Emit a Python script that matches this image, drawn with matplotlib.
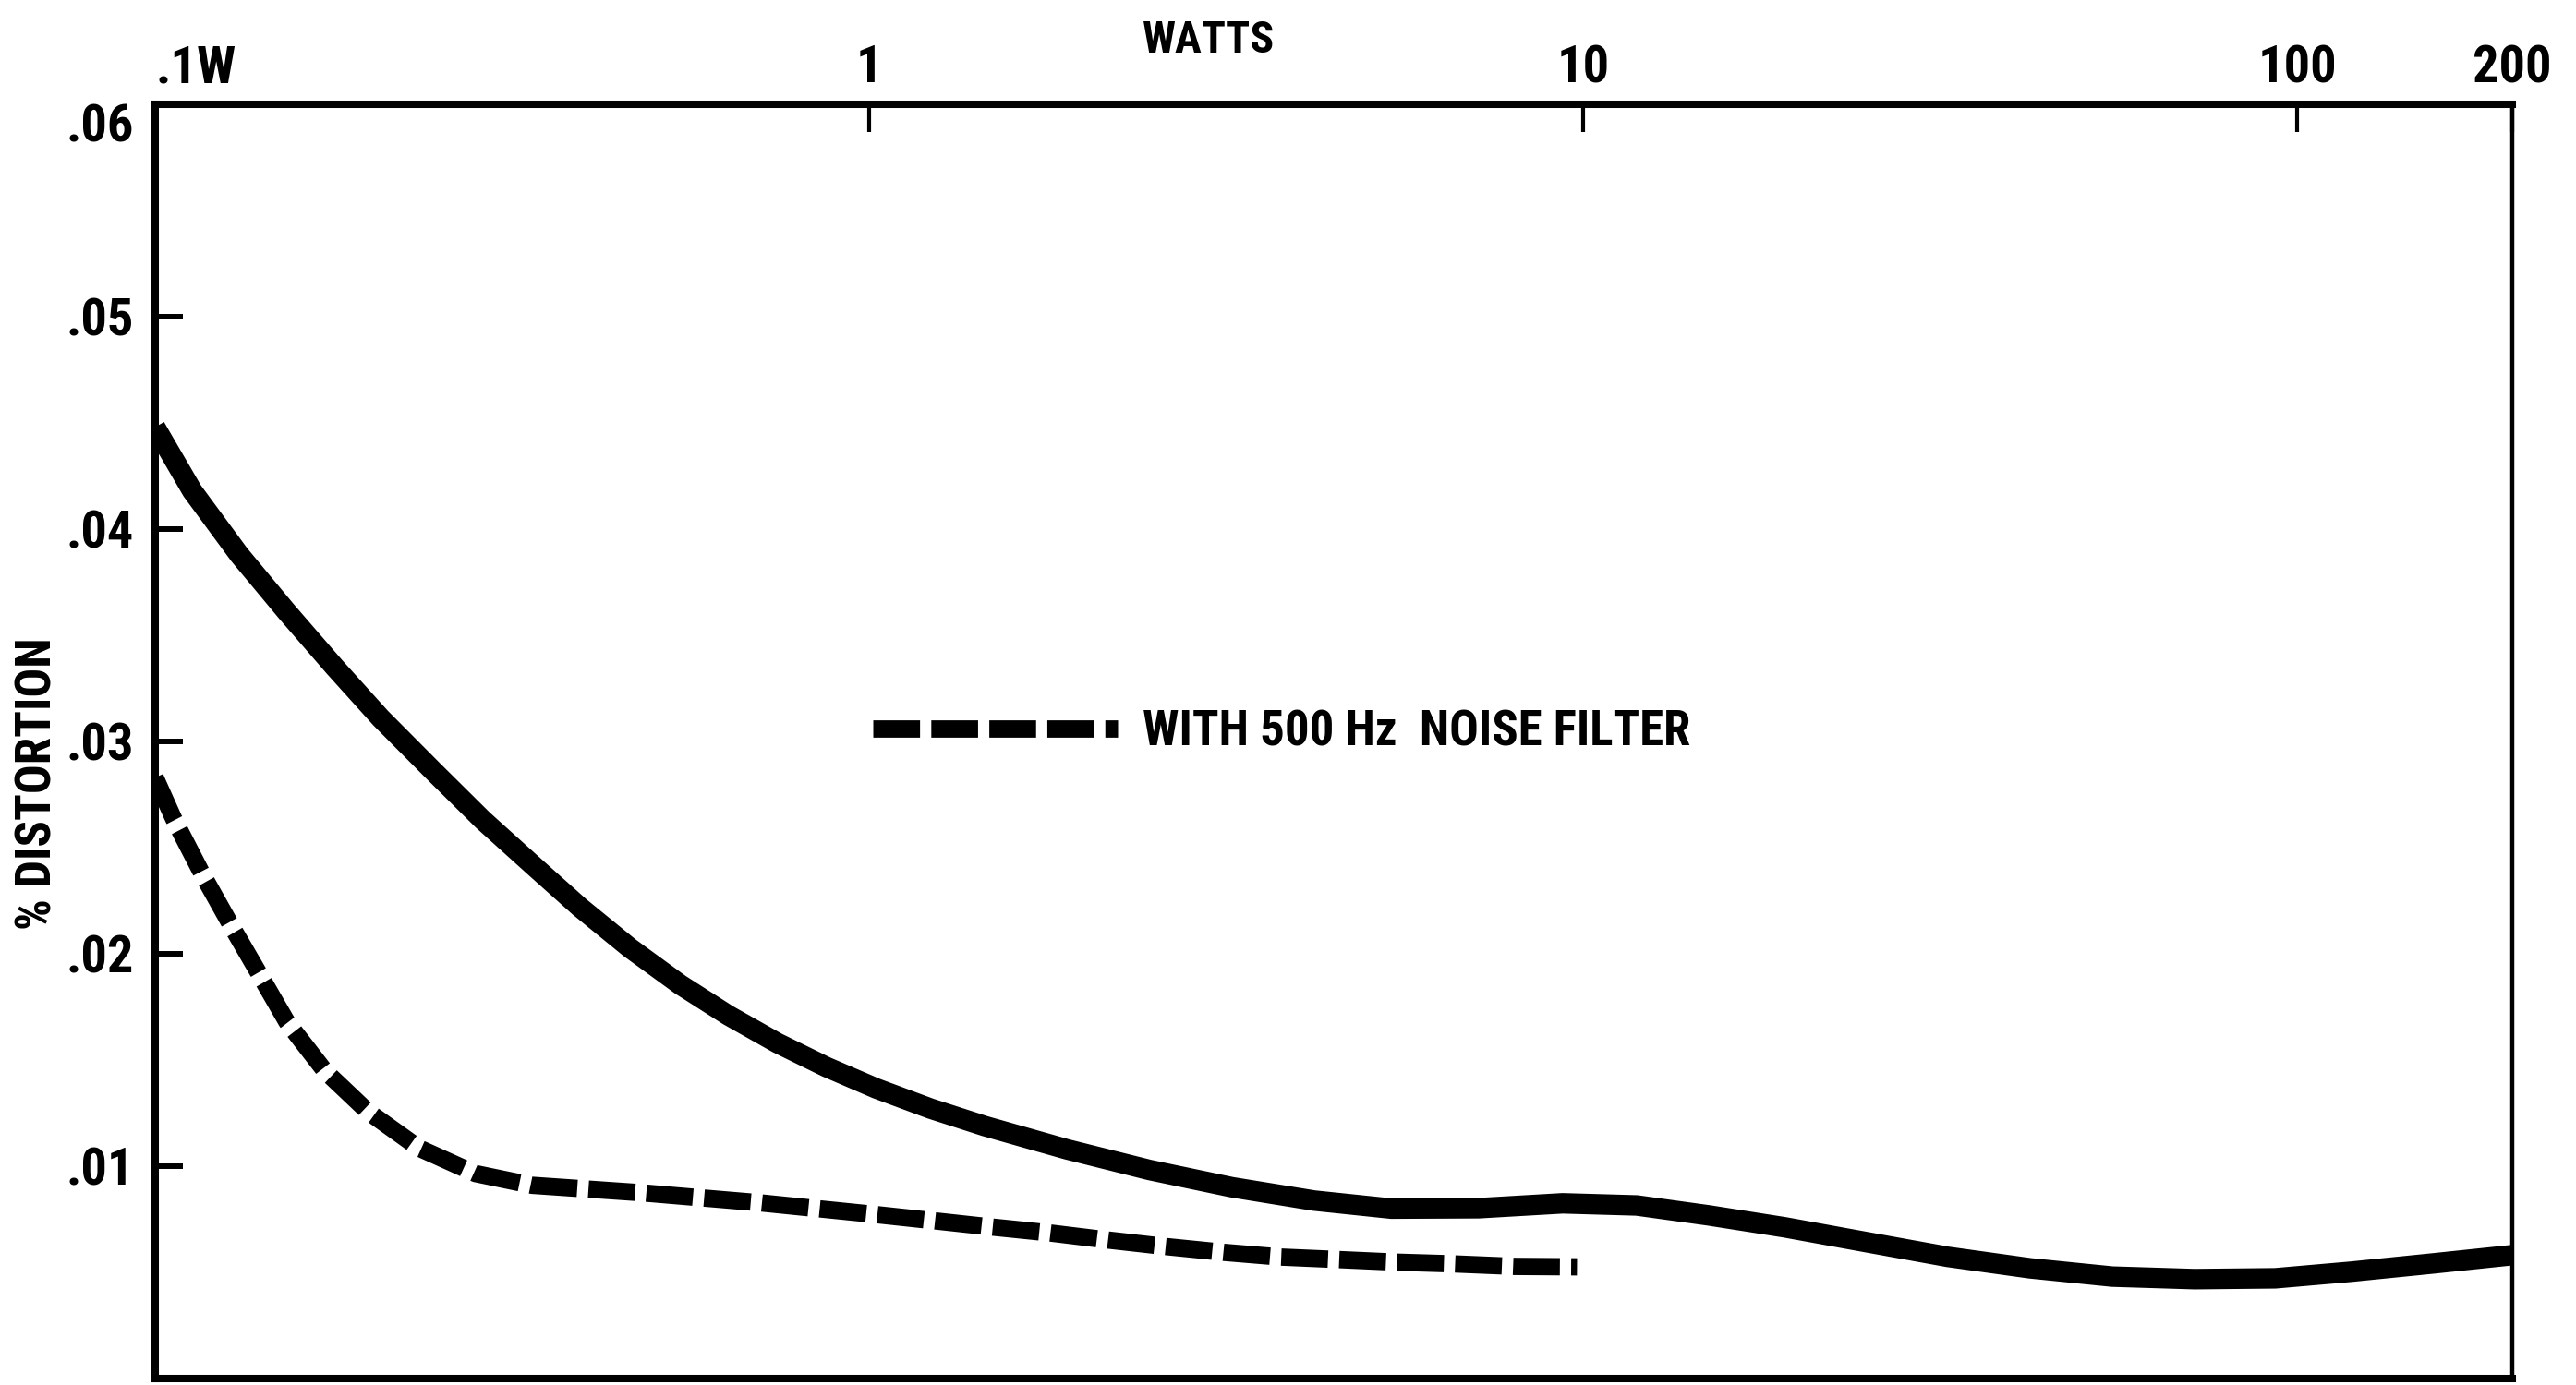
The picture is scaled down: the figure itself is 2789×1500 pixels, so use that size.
import matplotlib
matplotlib.use("Agg")
import matplotlib.pyplot as plt
from matplotlib import font_manager as fm
from matplotlib.font_manager import FontProperties
from matplotlib.ticker import NullLocator

# ---------------- data ----------------
watts_full = [0.1, 0.1127, 0.1311, 0.1529, 0.1784, 0.2069, 0.2453, 0.2876,
              0.3425, 0.3932, 0.462, 0.5436, 0.635, 0.7437, 0.871, 1.023,
              1.219, 1.451, 1.893, 2.469, 3.218, 4.197, 5.385, 7.135, 9.354,
              11.88, 15.0, 19.15, 24.84, 32.39, 42.24, 55.07, 71.81, 93.13,
              118.9, 155.0, 200.0]
dist_full = [0.0448, 0.0418, 0.0388, 0.0361, 0.0335, 0.0311, 0.0286, 0.0263,
             0.0240, 0.0222, 0.02028, 0.01855, 0.0171, 0.0158, 0.01467,
             0.01366, 0.01271, 0.01189, 0.01079, 0.00982, 0.00901, 0.00838,
             0.0080, 0.00802, 0.00825, 0.00815, 0.00768, 0.00712, 0.00643,
             0.00573, 0.00519, 0.00480, 0.00468, 0.00472, 0.00503, 0.00542,
             0.00581]

watts_filter = [0.1, 0.1060, 0.1162, 0.1274, 0.1396, 0.1529, 0.1727, 0.1981,
                0.2342, 0.2810, 0.3371, 0.4786, 0.7003, 1.0095, 1.231, 1.478,
                1.785, 2.161, 2.594, 3.141, 3.768, 4.559, 5.472, 6.572, 8.021,
                9.8]
dist_filter = [0.0283, 0.0264, 0.0238, 0.0214, 0.0191, 0.0168, 0.0145, 0.0126,
               0.01085, 0.00965, 0.00910, 0.00875, 0.00828, 0.00774, 0.00743,
               0.00714, 0.00686, 0.00652, 0.00622, 0.00594, 0.00572, 0.00560,
               0.00548, 0.00540, 0.00528, 0.00526]

x_ticks = [0.1, 1, 10, 100, 200]
x_tick_labels = [".1W", "1", "10", "100", "200"]
y_ticks = [0.01, 0.02, 0.03, 0.04, 0.05, 0.06]
y_tick_labels = [".01", ".02", ".03", ".04", ".05", ".06"]

legend_label = "WITH 500 Hz  NOISE FILTER"
x_label = "WATTS"
y_label = "% DISTORTION"

# ---------------- font: prefer a condensed bold sans ----------------
def wval(w):
    if isinstance(w, (int, float)):
        return w
    return fm.weight_dict.get(str(w).lower(), 400)

entries = fm.fontManager.ttflist
cond = ("condensed", "semi-condensed", "extra-condensed", "ultra-condensed")
font_path = None
for nm in ["Liberation Sans Narrow", "Roboto Condensed", "DejaVu Sans",
           "Noto Sans", "Open Sans", "Roboto", "Lato", "Inter"]:
    c = [e for e in entries if e.name == nm and str(e.stretch) in cond
         and 600 <= wval(e.weight) <= 800]
    if c:
        font_path = c[0].fname
        break
if font_path is None:
    for nm in ["Roboto", "Liberation Sans", "Noto Sans", "DejaVu Sans"]:
        c = [e for e in entries if e.name == nm and str(e.stretch) == "normal"
             and 650 <= wval(e.weight) <= 750 and str(e.style) == "normal"]
        if c:
            font_path = c[0].fname
            break

def FP(size):
    if font_path:
        return FontProperties(fname=font_path, size=size)
    return FontProperties(family="DejaVu Sans", weight="bold", size=size)

W, H = 2789, 1500
fig = plt.figure(figsize=(W / 100, H / 100), dpi=100)
ax = fig.add_axes([168 / W, 7 / H, 2552 / W, 1380 / H])

ax.set_xscale("log")
ax.set_xlim(0.1, 200)
ax.set_ylim(0, 0.06)

ax.plot(watts_full, dist_full, color="black", lw=16,
        solid_capstyle="butt", solid_joinstyle="round")
line, = ax.plot(watts_filter, dist_filter, color="black", lw=13.5,
                dashes=(2.7, 0.65), dash_capstyle="butt",
                label=legend_label)

# x axis on top
ax.xaxis.tick_top()
ax.set_xticks(x_ticks)
ax.set_xticklabels(x_tick_labels)
ax.xaxis.set_minor_locator(NullLocator())
ax.tick_params(axis="x", which="major", direction="in", length=21.6, width=3,
               pad=9, top=True, bottom=False, labeltop=True, labelbottom=False)
ax.set_yticks(y_ticks)
ax.set_yticklabels(y_tick_labels)
ax.tick_params(axis="y", direction="in", length=21.6, width=4.3, pad=16.5,
               left=True, right=False)

for side in ["top", "left", "bottom"]:
    ax.spines[side].set_linewidth(5.8)
ax.spines["right"].set_linewidth(3.2)

ax.xaxis.set_label_position("top")
ax.set_xlabel(x_label)
ax.set_ylabel(y_label)

S0 = 40.0
xl = ax.get_xticklabels()
yl = ax.get_yticklabels()
for t in xl + yl:
    t.set_fontproperties(FP(S0))
ax.xaxis.label.set_fontproperties(FP(S0))
ax.yaxis.label.set_fontproperties(FP(S0))

def make_legend(size):
    px = size * 100 / 72
    return ax.legend(handles=[line], loc="center left",
                     bbox_to_anchor=(945 / W, 1 - 793 / H),
                     bbox_transform=fig.transFigure, frameon=False,
                     borderpad=0, borderaxespad=0, handlelength=265 / px,
                     handletextpad=27 / px, prop=FP(size))

leg = make_legend(S0)

fig.canvas.draw()
r = fig.canvas.get_renderer()

def blend(sw, sh, a):
    return sw ** a * sh ** (1 - a)

# tick labels: fit widths of "200" (66 px) and ".05" (65 px), keep height
w200 = xl[4].get_window_extent(r).width
w05 = yl[4].get_window_extent(r).width
s_tick = blend(S0 * 0.5 * (66 / w200 + 65 / w05), 46, 0.4)
for t in ax.get_xticklabels() + ax.get_yticklabels():
    t.set_fontproperties(FP(s_tick))

# axis labels
ww = ax.xaxis.label.get_window_extent(r).width
s_x = blend(S0 * 122 / ww, 44, 0.6)
ax.xaxis.label.set_fontproperties(FP(s_x))
hh = ax.yaxis.label.get_window_extent(r).height
s_y = blend(S0 * 288 / hh, 44, 0.6)
ax.yaxis.label.set_fontproperties(FP(s_y))

# legend text: 538 px wide
wl = leg.get_texts()[0].get_window_extent(r).width
s_l = blend(S0 * 538 / wl, 44, 0.6)
leg.remove()
leg = make_legend(s_l)

xl = ax.get_xticklabels()
xl[0].set_ha("left")
yl = ax.get_yticklabels()
yl[-1].set_va("top")

ax.xaxis.set_label_coords((1309 - 168) / 2552, (1493 - 44) / 1380)
ax.xaxis.label.set_va("center")
ax.yaxis.set_label_coords((41 - 168) / 2552, (1493 - 849) / 1380)
ax.yaxis.label.set_va("center")

fig.savefig("out.png", dpi=100, facecolor="white")
